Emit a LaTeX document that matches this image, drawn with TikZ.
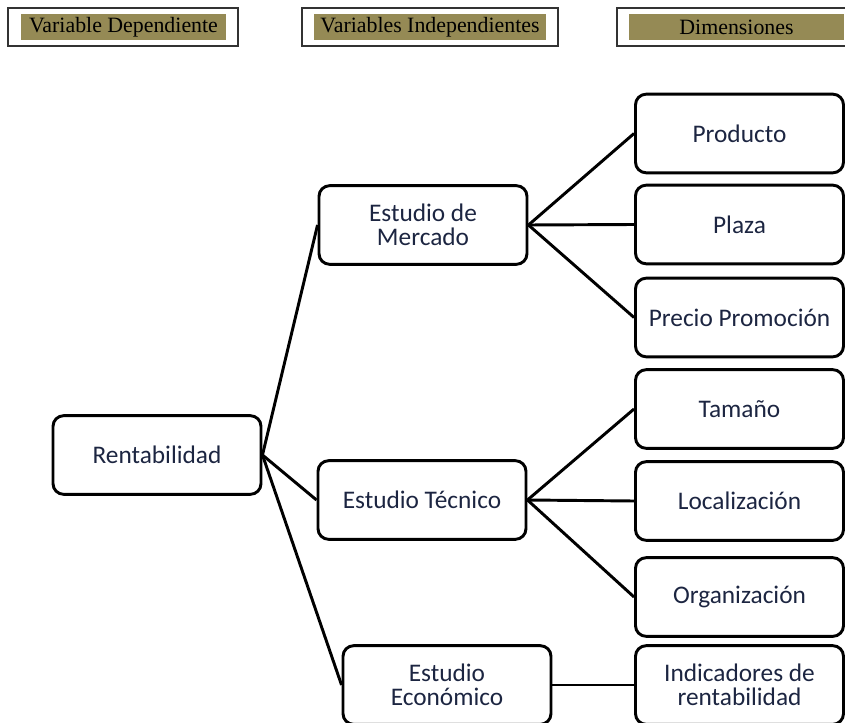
\documentclass[tikz,border=0pt]{standalone}
\usepackage{fontspec}
\setmainfont{Carlito}
\newfontfamily\headfont{Liberation Serif}
\usepackage{xcolor}
\usetikzlibrary{positioning}
\definecolor{olive}{HTML}{958A55}
\definecolor{navytext}{HTML}{1C2541}
\tikzset{
	block/.style={
		draw,
		rectangle,
		align=center,
		line width=2.2pt,
		minimum width=156pt,
		minimum height=59pt,
		inner sep=2pt,
		rounded corners=8pt,
		text=navytext,
		font=\fontsize{19}{18}\selectfont
	},
	headframe/.style={
		draw=black!80,
		line width=1.1pt,
		minimum height=28.5pt,
		inner sep=0pt
	},
	headfill/.style={
		fill=olive,
		minimum height=19.5pt,
		inner sep=0pt,
		font=\headfont\fontsize{16.4}{18}\selectfont
	},
	link/.style={line width=2.2pt}
}

\begin{document}
\begin{tikzpicture}[x=0.75pt,y=-0.75pt]
					\useasboundingbox (0,0) rectangle (845,723);
					% encabezados
					\node[headframe, minimum width=172.5pt] (FrameDep) at (123,27) {};
					\node[headfill, minimum width=154pt] (HeadDep) at (123.5,27) {Variable Dependiente};
					\node[headframe, minimum width=192pt] (FrameInd) at (430,27) {};
					\node[headfill, minimum width=174pt] (HeadInd) at (430,27) {Variables Independientes};
					\node[headframe, minimum width=179pt] (FrameDim) at (736.5,27) {};
					\node[headfill, minimum width=161pt] (HeadDim) at (736.5,27) {Dimensiones};
					
					% variables
					\node[block] (Rent) at (157,455) {Rentabilidad};
					\node[block] (Merc) at (423,225) {Estudio de\\ Mercado};
					\node[block] (Tec) at (422,500) {Estudio Técnico};
					\node[block] (Eco) at (447,685) {Estudio\\ Económico};
					
					% dimensiones
					\node[block] (Prod) at (739.5,133.5) {Producto};
					\node[block] (Plaza) at (739.5,224.5) {Plaza};
					\node[block] (Precio) at (739.5,317.5) {Precio Promoción};
					\node[block] (Tam) at (739.5,409) {Tamaño};
					\node[block] (Loc) at (739.5,501) {Localización};
					\node[block] (Org) at (739.5,597) {Organización};
					\node[block] (Ind) at (739.5,685) {Indicadores de\\ rentabilidad};
					
					\draw[link] (Rent.east) -- (Merc.west);
					\draw[link] (Rent.east) -- (Tec.west);
					\draw[link] (Rent.east) -- (Eco.west);
					\draw[link] (Merc.east) -- (Prod.west);
					\draw[link] (Merc.east) -- (Plaza.west);
					\draw[link] (Merc.east) -- (Precio.west);
					\draw[link] (Tec.east) -- (Tam.west);
					\draw[link] (Tec.east) -- (Loc.west);
					\draw[link] (Tec.east) -- (Org.west);
					\draw[link] (Eco.east) -- (Ind.west);
				\end{tikzpicture}
\end{document}
